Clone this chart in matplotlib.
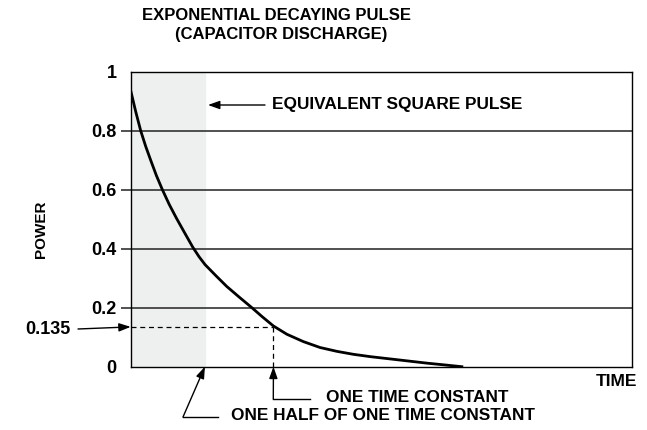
import numpy as np
import matplotlib
matplotlib.use("Agg")
import matplotlib.pyplot as plt
from matplotlib.lines import Line2D

plt.rcParams['font.family'] = ['Liberation Sans', 'DejaVu Sans']
plt.rcParams['font.weight'] = 'bold'

# curve (time in time constants, power normalised)
time = [0, 0.035, 0.07, 0.105, 0.14, 0.18, 0.222, 0.27, 0.322, 0.38, 0.435,
        0.48, 0.521, 0.6, 0.673, 0.76, 0.849, 0.92, 1.0, 1.094, 1.21, 1.327,
        1.445, 1.56, 1.68, 1.842, 2.076, 2.2, 2.32]
power = [0.936, 0.865, 0.80, 0.747, 0.70, 0.648, 0.60, 0.55, 0.502, 0.452, 0.405,
         0.372, 0.346, 0.307, 0.272, 0.236, 0.200, 0.170, 0.138, 0.110, 0.085, 0.065,
         0.052, 0.042, 0.034, 0.025, 0.012, 0.006, 0.0]
y_ticks = [0, 0.2, 0.4, 0.6, 0.8, 1]
y_labels = ['0', '0.2', '0.4', '0.6', '0.8', '1']
tau = 1.0
half_tau = 0.52
marker_level = 0.135
x_max = 3.51

W, H = 647, 430
fig = plt.figure(figsize=(W / 100, H / 100), dpi=100)
ax = fig.add_axes([130.7 / W, 1 - 366.7 / H, 501 / W, 295 / H])


def px(x, y):
    # top-left pixel -> figure fraction
    return (x / W, 1 - y / H)


ax.axvspan(0, half_tau, color='#eef0ef', zorder=0)
for v in y_ticks[1:-1]:
    ax.axhline(v, color='#333333', lw=1.2, zorder=1)

ax.plot([0, tau], [marker_level, marker_level], color='black', lw=0.9,
        dashes=(4, 3), zorder=2)
ax.plot([tau, tau], [0, marker_level], color='black', lw=0.9,
        dashes=(4, 3), zorder=2)

ax.plot(time, power, color='black', lw=2.0, zorder=3, solid_joinstyle='round')

ax.set_xlim(0, x_max)
ax.set_ylim(0, 1)
ax.set_xticks([])
ax.set_yticks(y_ticks)
ax.set_yticklabels(y_labels, fontsize=13, fontweight='bold')
ax.tick_params(axis='y', length=7, width=1.2, color='#333333', pad=3)
for i in (0, len(y_ticks) - 1):
    ax.yaxis.get_major_ticks()[i].tick1line.set_visible(False)
for s in ax.spines.values():
    s.set_linewidth(1.0)
    s.set_color('black')

head = dict(arrowstyle='-|>,head_length=0.7,head_width=0.25', color='black',
            lw=1.0, mutation_scale=10, shrinkA=0, shrinkB=0)
fs = 12.4

# title
fig.text(*px(276, 16), 'EXPONENTIAL DECAYING PULSE', ha='center', va='center',
         fontsize=12, fontweight='bold')
fig.text(*px(281, 34), '(CAPACITOR DISCHARGE)', ha='center', va='center',
         fontsize=12, fontweight='bold')

# axis labels
fig.text(*px(41, 229), 'POWER', rotation=90, ha='center', va='center',
         fontsize=11, fontweight='bold')
fig.text(*px(637, 382), 'TIME', ha='right', va='center',
         fontsize=12.5, fontweight='bold')

# equivalent square pulse
fig.text(*px(272, 105), 'EQUIVALENT SQUARE PULSE', ha='left', va='center',
         fontsize=fs, fontweight='bold')
ax.annotate('', xy=px(208, 105), xycoords='figure fraction',
            xytext=px(265, 105), textcoords='figure fraction', arrowprops=head)

# 0.135 marker
fig.text(*px(70, 330), '0.135', ha='right', va='center',
         fontsize=13, fontweight='bold')
ax.annotate('', xy=(0, marker_level), xycoords='data',
            xytext=px(78, 329), textcoords='figure fraction', arrowprops=head,
            annotation_clip=False)

# one time constant
ax.annotate('', xy=(tau, 0), xycoords='data',
            xytext=px(273.3, 399), textcoords='figure fraction', arrowprops=head,
            annotation_clip=False)
fig.add_artist(Line2D([273.3 / W, 310 / W], [1 - 399 / H, 1 - 399 / H],
                      color='black', lw=1.0))
fig.text(*px(326, 398), 'ONE TIME CONSTANT', ha='left', va='center',
         fontsize=fs, fontweight='bold')

# one half of one time constant
ax.annotate('', xy=(half_tau, 0), xycoords='data',
            xytext=px(183, 417), textcoords='figure fraction', arrowprops=head,
            annotation_clip=False)
fig.add_artist(Line2D([183 / W, 218 / W], [1 - 417 / H, 1 - 417 / H],
                      color='black', lw=1.0))
fig.text(*px(231, 416), 'ONE HALF OF ONE TIME CONSTANT', ha='left', va='center',
         fontsize=fs, fontweight='bold')

fig.savefig('out.png', dpi=100)
